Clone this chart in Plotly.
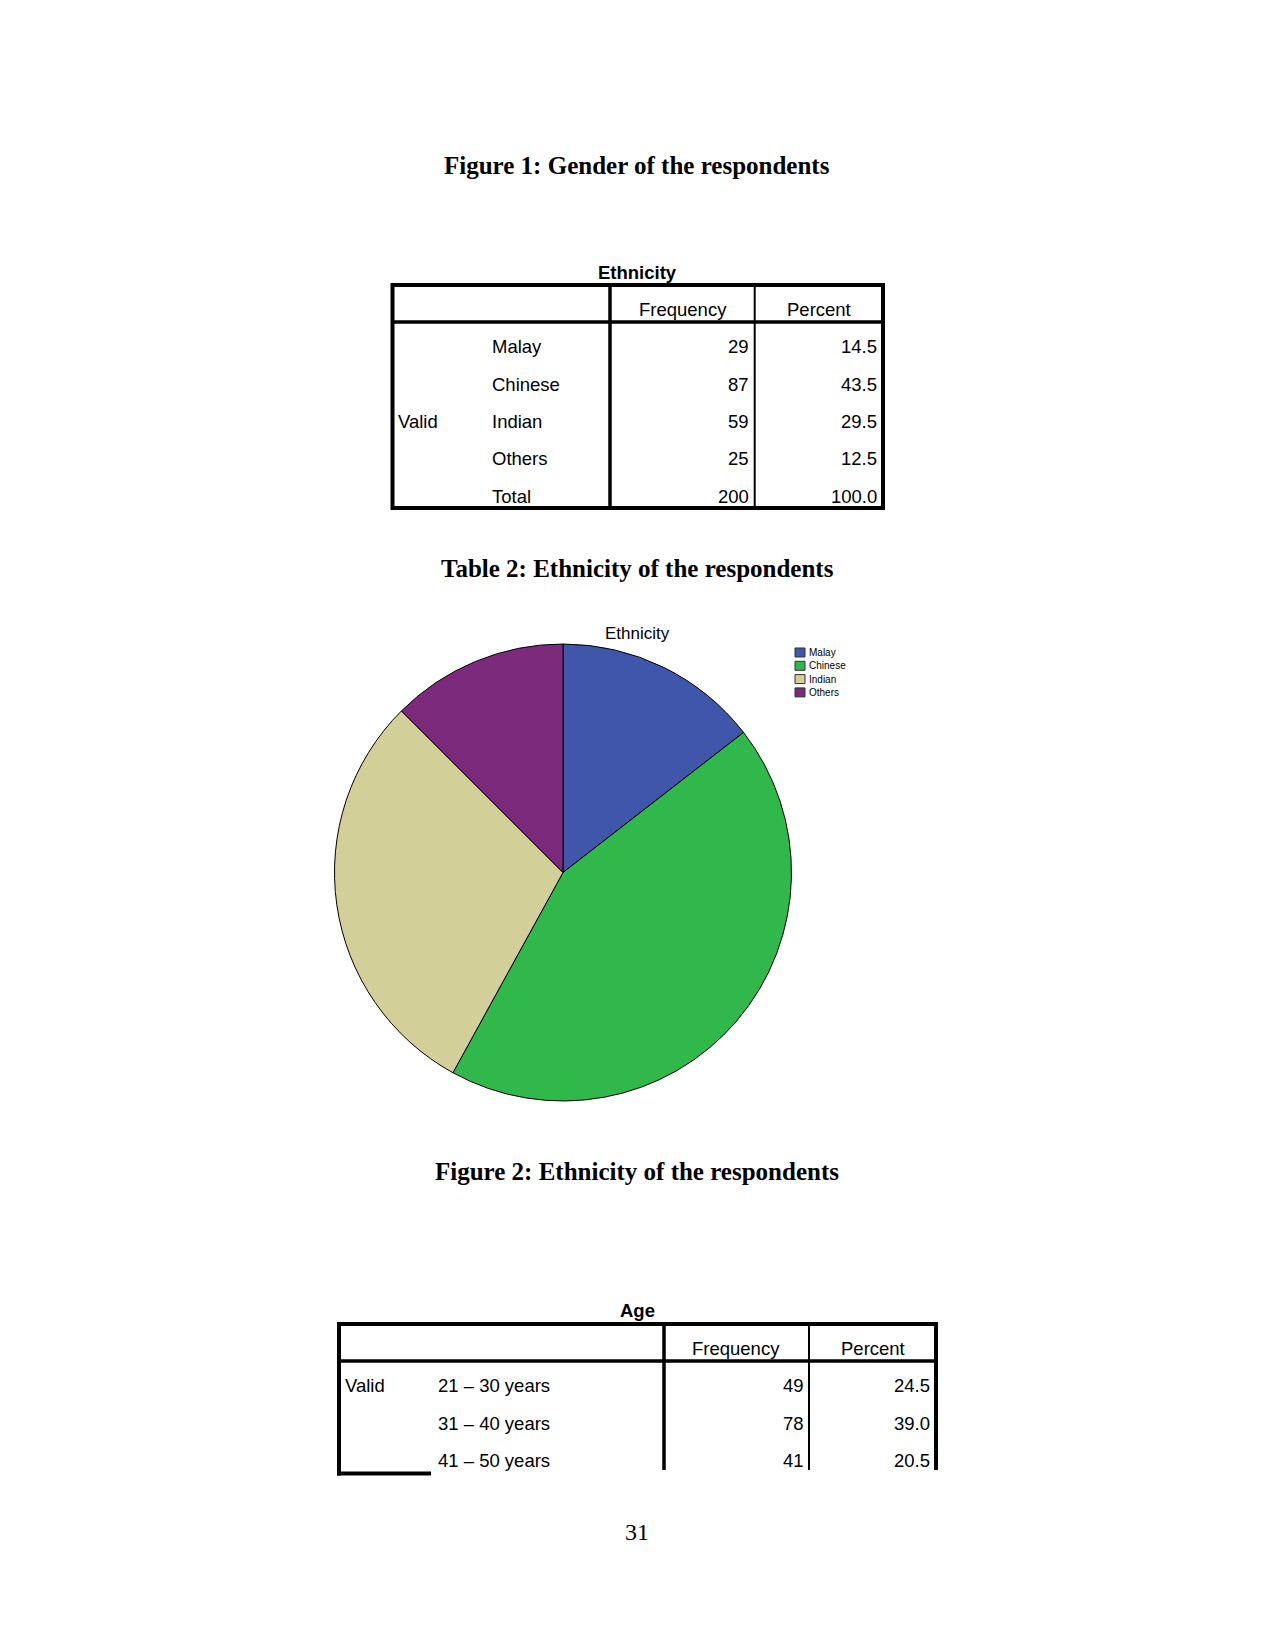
import plotly.graph_objects as go

# ---------------- data ----------------
eth_categories = ["Malay", "Chinese", "Indian", "Others"]
eth_frequency = [29, 87, 59, 25]
eth_percent = [14.5, 43.5, 29.5, 12.5]
eth_total_freq = 200
eth_total_pct = 100.0
eth_colors = ["#4056AA", "#30B84B", "#D3CF99", "#7C2A7B"]

age_categories = ["21 \u2013 30 years", "31 \u2013 40 years", "41 \u2013 50 years"]
age_frequency = [49, 78, 41]
age_percent = [24.5, 39.0, 20.5]

headers = ["Frequency", "Percent"]
fig1_caption = "Figure 1: Gender of the respondents"
tab2_caption = "Table 2: Ethnicity of the respondents"
fig2_caption = "Figure 2: Ethnicity of the respondents"
page_number = "31"

W, H = 1275, 1650
SANS = "Liberation Sans, Arial, sans-serif"
SERIF = "Liberation Serif, Times New Roman, serif"
FS = 18.5

fig = go.Figure()

shapes = []
ann = []


def text(x, y, s, size=FS, bold=False, xanchor="center", family=SANS, color="#000"):
    ann.append(dict(x=x, y=y, xref="x", yref="y", text=(f"<b>{s}</b>" if bold else s),
                    showarrow=False, xanchor=xanchor, yanchor="middle",
                    font=dict(family=family, size=size, color=color)))


def line(x0, y0, x1, y1, w):
    shapes.append(dict(type="line", xref="x", yref="y", x0=x0, y0=y0, x1=x1, y1=y1,
                       line=dict(color="#000", width=w)))


# ---------------- captions ----------------
text(637, 165, fig1_caption, size=25, bold=True, family=SERIF)
text(637, 568, tab2_caption, size=25, bold=True, family=SERIF)
text(637, 1171, fig2_caption, size=25, bold=True, family=SERIF)
text(637, 1532, page_number, size=24, family=SERIF)

# ---------------- Ethnicity table ----------------
L, R, T, B = 392.5, 883, 285, 508
HL, C1, C2 = 322, 610, 754.7
text(637, 272, "Ethnicity", size=18.5, bold=True)
line(L, T, R, T, 4)
line(L, B, R, B, 4)
line(L, T - 2, L, B + 2, 4)
line(R, T - 2, R, B + 2, 4)
line(L, HL, R, HL, 3.5)
line(C1, T, C1, B, 3.5)
line(C2, T, C2, B, 2)
text(683, 309.5, headers[0])
text(819, 309.5, headers[1])
row_y = [346.5, 384.5, 421.5, 458.5]
FR1, PR1, LB1 = 751, 879, 489.5
for i, cat in enumerate(eth_categories):
    text(LB1, row_y[i], cat, xanchor="left")
    text(FR1, row_y[i], str(eth_frequency[i]), xanchor="right")
    text(PR1, row_y[i], f"{eth_percent[i]:.1f}", xanchor="right")
text(395.5, 421.5, "Valid", xanchor="left")
text(LB1, 496.5, "Total", xanchor="left")
text(FR1, 496.5, str(eth_total_freq), xanchor="right")
text(PR1, 496.5, f"{eth_total_pct:.1f}", xanchor="right")

# ---------------- Pie ----------------
cx, cy, r = 563, 872.5, 228.5
fig.add_trace(go.Pie(
    labels=eth_categories, values=eth_frequency, sort=False, direction="clockwise",
    rotation=0, textinfo="none", hoverinfo="label+value",
    marker=dict(colors=eth_colors, line=dict(color="#000", width=1)),
    domain=dict(x=[(cx - r) / W, (cx + r) / W], y=[(H - (cy + r)) / H, (H - (cy - r)) / H]),
    showlegend=False,
))
text(637, 633, "Ethnicity", size=17)
# legend
leg_y = [652.5, 665.8, 679.1, 692.4]
for i, cat in enumerate(eth_categories):
    shapes.append(dict(type="rect", xref="x", yref="y", x0=795, x1=805,
                       y0=leg_y[i] - 4.5, y1=leg_y[i] + 4.5,
                       fillcolor=eth_colors[i], line=dict(color="#333", width=1)))
    text(806.5, leg_y[i], cat, size=10, xanchor="left")

# ---------------- Age table ----------------
L2, R2, T2 = 339, 936, 1324
HL2, D1, D2 = 1361, 664, 809
VEND = 1470
text(637, 1310.5, "Age", size=18.5, bold=True)
line(L2 - 2, T2, R2 + 2, T2, 4)
line(L2, T2, L2, 1475.5, 4)
line(R2, T2, R2, VEND, 4)
line(L2, HL2, R2, HL2, 3.5)
line(D1, T2, D1, VEND, 3.5)
line(D2, T2, D2, VEND, 2)
line(L2 - 2, 1473.5, 431, 1473.5, 4)
text(736, 1348.5, headers[0])
text(873, 1348.5, headers[1])
age_y = [1385.5, 1423.5, 1460.5]
text(343, age_y[0], "Valid", xanchor="left")
for i, cat in enumerate(age_categories):
    text(435.5, age_y[i], cat, xanchor="left")
    text(805.5, age_y[i], str(age_frequency[i]), xanchor="right")
    text(932, age_y[i], f"{age_percent[i]:.1f}", xanchor="right")

fig.update_layout(
    width=W, height=H, margin=dict(l=0, r=0, t=0, b=0),
    paper_bgcolor="white", plot_bgcolor="white",
    xaxis=dict(range=[0, W], visible=False, fixedrange=True),
    yaxis=dict(range=[H, 0], visible=False, fixedrange=True),
    shapes=shapes, annotations=ann, showlegend=False,
)

fig.write_html("out.html", config={"displayModeBar": False})
